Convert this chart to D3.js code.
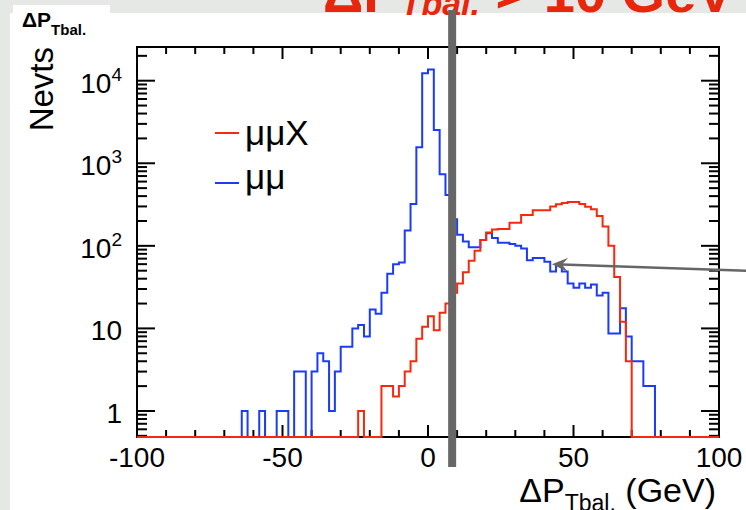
<!DOCTYPE html>
<html><head><meta charset="utf-8">
<script src="https://cdn.jsdelivr.net/npm/d3@7/dist/d3.min.js"></script>
<style>body{margin:0;background:#fff;} svg{display:block;}</style>
</head><body>
<svg id="c" width="746" height="510"></svg>
<script>
// ---------- data ----------
const binLowEdges = d3.range(-100, 100, 2);   // 100 bins of 2 GeV
const binWidth = 2;
const seriesNames = ["μμX", "μμ"];
// μμ (blue)
const valuesMuMu = [
  0,0,0,0,0,0,0,0,0,0, 0,0,0,0,0,0,0,0,1,0,
  0,1,0,0,1,1,0,3,3,0, 3,5,4,1,3,6,6,10,11,8,
  17,15,27,46,60,63,153,322,1560,12300, 13700,2530,736,414,210,136,113,96,96,118,
  142,124,109,109,105,100,93,67,71,71, 64,49,59,49,35,31,35,31,34,25,
  27,8.7,8.7,17.5,8,4,4,2,2,0, 0,0,0,0,0,0,0,0,0,0
];
// μμX (red)
const valuesMuMuX = [
  0,0,0,0,0,0,0,0,0,0, 0,0,0,0,0,0,0,0,0,0,
  0,0,0,0,0,0,0,0,0,0, 0,0,0,0,0,0,0,0,1,0,
  0,0,2,2,1.5,2,3,4,7.5,10.5, 14,9.5,15.5,20,27,35,48,66,87,118,
  145,158,160,160,190,190,237,237,270,270, 270,300,320,330,340,340,322,298,277,230,
  171,100,42,12,4,0,0,0,0,0, 0,0,0,0,0,0,0,0,0,0
];
const xMajorTicks = [-100, -50, 0, 50, 100];
const xTickLabels = ["-100", "-50", "0", "50", "100"];
const xMinorTicks = d3.range(-100, 101, 10);
const yMajorTicks = [1, 10, 100, 1000, 10000];
const yTickLabels = [["1",""], ["10",""], ["10","2"], ["10","3"], ["10","4"]];
const yMinorTicks = [0.5,0.6,0.7,0.8,0.9].concat(
  ...[1,10,100,1000,10000].map(d => [2,3,4,5,6,7,8,9].map(m => m*d))).filter(v => v < 25000);
const cutValue = 8.3;          // grey cut line (GeV)
const arrowTail = [109.3, 50]; // annotation arrow (GeV, Nevts)
const arrowTip = [42.6, 60];

// ---------- layout ----------
const svg = d3.select("#c");
const x = d3.scaleLinear().domain([-100, 100]).range([137, 719]);
const y = d3.scaleLog().domain([0.484, 25590]).range([437, 47]);
const Y = v => v > 0 ? y(v) : y(y.domain()[0]);
const colRed = "#f8280c", colBlue = "#1b3cf7";
const font = "Liberation Sans, Arial, Helvetica, sans-serif";

// background (slide)
svg.append("rect").attr("width", 746).attr("height", 510).attr("fill", "#e6e8e6");
svg.append("rect").attr("x", 10).attr("y", 13).attr("width", 736).attr("height", 497).attr("fill", "#fff");
svg.append("rect").attr("x", 13).attr("y", 5).attr("width", 97).attr("height", 40).attr("fill", "#fff");

// red slide title (clipped at top)
const title = svg.append("text").attr("x", 323).attr("y", 12)
  .attr("font-family", font).attr("font-weight", "bold")
  .attr("font-size", 56).attr("fill", "#e8260b");
title.append("tspan").text("ΔP");
title.append("tspan").attr("font-size", 34).attr("font-style", "italic").attr("dy", 3).text("Tbal.");
title.append("tspan").attr("dy", -3).text(" > 10 GeV");

// top-left label
const lab = svg.append("text").attr("x", 22).attr("y", 27)
  .attr("font-family", font).attr("font-weight", "bold")
  .attr("font-size", 21).attr("fill", "#000");
lab.append("tspan").text("ΔP");
lab.append("tspan").attr("font-size", 15).attr("dy", 8).text("Tbal.");

// ---------- histograms ----------
const stepLine = d3.line().x(d => x(d[0])).y(d => Y(d[1])).curve(d3.curveStepAfter);
function histPts(vals) {
  const pts = binLowEdges.map((lo, i) => [lo, vals[i]]);
  pts.push([binLowEdges[binLowEdges.length - 1] + binWidth, vals[vals.length - 1]]);
  return pts;
}

// frame
const g = svg.append("g");
g.append("rect").attr("x", x(-100)).attr("y", y(y.domain()[1]))
  .attr("width", x(100) - x(-100)).attr("height", y(y.domain()[0]) - y(y.domain()[1]))
  .attr("fill", "none").attr("stroke", "#000").attr("stroke-width", 2);

// ticks
const y0 = y(y.domain()[0]), y1 = y(y.domain()[1]);
const x0 = x(-100), x1 = x(100);
const tk = g.append("g").attr("stroke", "#000").attr("stroke-width", 2);
xMinorTicks.forEach(t => {
  const L = xMajorTicks.includes(t) ? 12 : 7;
  tk.append("line").attr("x1", x(t)).attr("x2", x(t)).attr("y1", y0).attr("y2", y0 - L);
  tk.append("line").attr("x1", x(t)).attr("x2", x(t)).attr("y1", y1).attr("y2", y1 + L);
});
yMajorTicks.forEach(t => {
  tk.append("line").attr("x1", x0).attr("x2", x0 + 18).attr("y1", y(t)).attr("y2", y(t));
  tk.append("line").attr("x1", x1).attr("x2", x1 - 18).attr("y1", y(t)).attr("y2", y(t));
});
yMinorTicks.forEach(t => {
  tk.append("line").attr("x1", x0).attr("x2", x0 + 10).attr("y1", y(t)).attr("y2", y(t));
  tk.append("line").attr("x1", x1).attr("x2", x1 - 10).attr("y1", y(t)).attr("y2", y(t));
});

// tick labels
xMajorTicks.forEach((t, i) => {
  g.append("text").attr("x", x(t)).attr("y", 467).attr("text-anchor", "middle")
    .attr("font-family", font).attr("font-size", 28).text(xTickLabels[i]);
});
yMajorTicks.forEach((t, i) => {
  const tx = g.append("text").attr("x", 122).attr("y", y(t) + 12).attr("text-anchor", "end")
    .attr("font-family", font).attr("font-size", 28);
  tx.append("tspan").text(yTickLabels[i][0]);
  if (yTickLabels[i][1]) tx.append("tspan").attr("font-size", 19).attr("dy", -12).text(yTickLabels[i][1]);
});

// axis titles
const xt = g.append("text").attr("x", 716).attr("y", 502).attr("text-anchor", "end")
  .attr("font-family", font).attr("font-size", 34);
xt.append("tspan").text("ΔP");
xt.append("tspan").attr("font-size", 23).attr("dy", 9).text("Tbal.");
xt.append("tspan").attr("dy", -9).text(" (GeV)");
g.append("text").attr("transform", `translate(53,${y1}) rotate(-90)`).attr("text-anchor", "end")
  .attr("font-family", font).attr("font-size", 33).text("Nevts");

// histograms
svg.append("path").attr("d", stepLine(histPts(valuesMuMu))).attr("fill", "none")
  .attr("stroke", colBlue).attr("stroke-width", 2);
svg.append("path").attr("d", stepLine(histPts(valuesMuMuX))).attr("fill", "none")
  .attr("stroke", colRed).attr("stroke-width", 2);

// legend
const legItems = [{name: seriesNames[0], col: colRed, ly: 133, ty: 145}, {name: seriesNames[1], col: colBlue, ly: 183, ty: 189}];
legItems.forEach(d => {
  svg.append("line").attr("x1", 215).attr("x2", 239).attr("y1", d.ly).attr("y2", d.ly)
    .attr("stroke", d.col).attr("stroke-width", 2);
  svg.append("text").attr("x", 245).attr("y", d.ty).attr("font-family", font)
    .attr("font-size", 35).text(d.name);
});

// grey cut line
svg.append("rect").attr("x", x(cutValue) - 4).attr("y", 10).attr("width", 8).attr("height", 457)
  .attr("fill", "#676767");

// annotation arrow
const ta = [x(arrowTail[0]), y(arrowTail[1])], tp = [x(arrowTip[0]), y(arrowTip[1])];
const ang = Math.atan2(ta[1] - tp[1], ta[0] - tp[0]);
const ux = Math.cos(ang), uy = Math.sin(ang), px = -uy, py = ux;
const hl = 16, hw = 7, notch = 10;
svg.append("line").attr("x1", ta[0]).attr("y1", ta[1]).attr("x2", tp[0] + ux * notch).attr("y2", tp[1] + uy * notch)
  .attr("stroke", "#666").attr("stroke-width", 2.5);
svg.append("path").attr("d",
  `M${tp[0]},${tp[1]}L${tp[0] + ux*hl + px*hw},${tp[1] + uy*hl + py*hw}L${tp[0] + ux*notch},${tp[1] + uy*notch}L${tp[0] + ux*hl - px*hw},${tp[1] + uy*hl - py*hw}Z`)
  .attr("fill", "#666");
</script>
</body></html>
